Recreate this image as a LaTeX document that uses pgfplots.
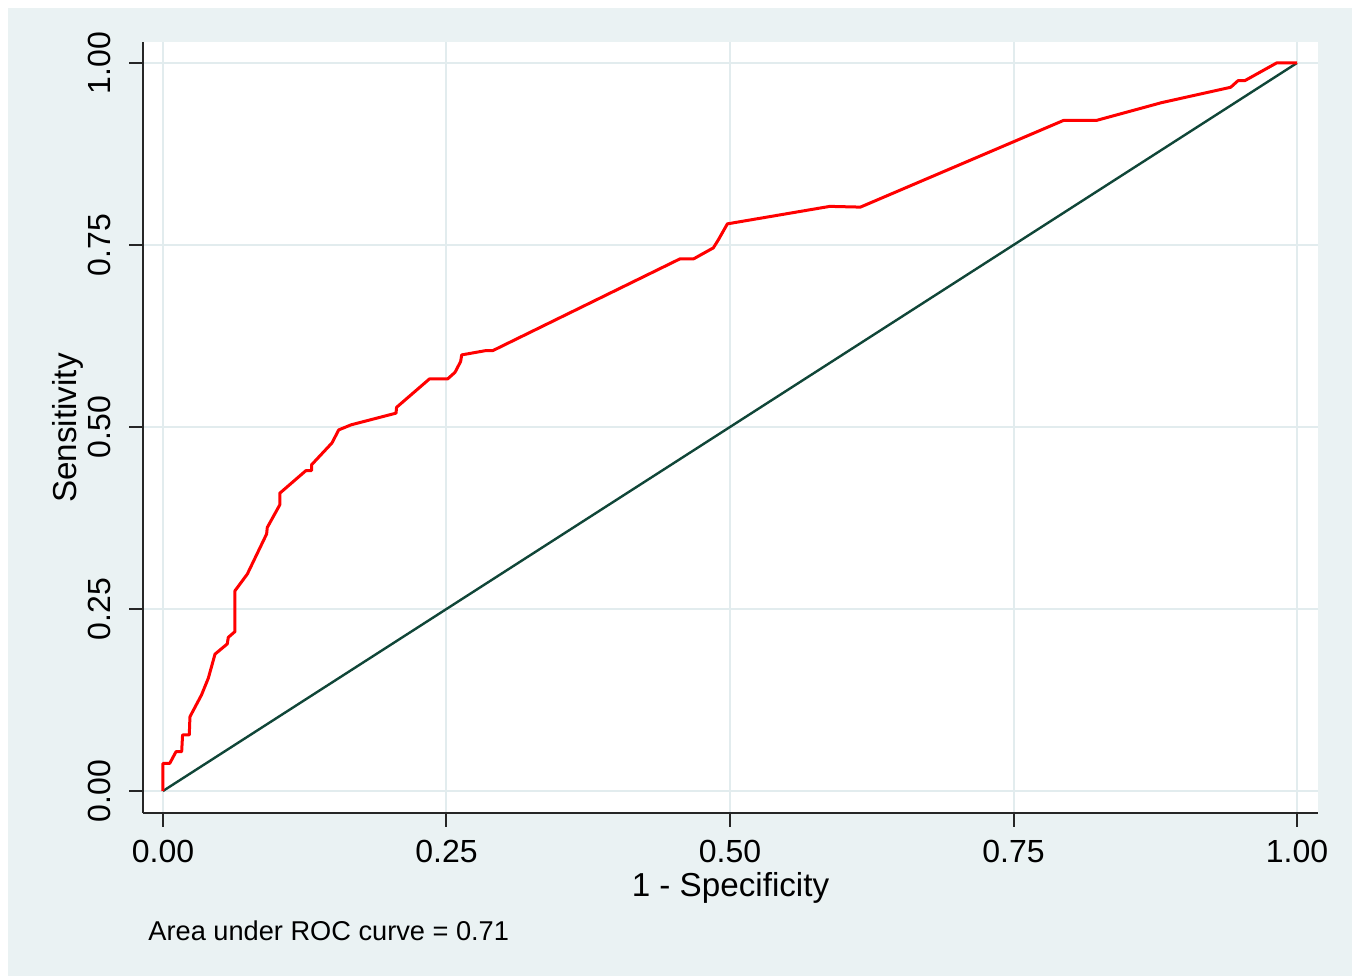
\documentclass[border=0pt]{standalone}
\usepackage{pgfplots}
\pgfplotsset{compat=1.18}
\usepackage{fontspec}
\setmainfont{Liberation Sans}
\definecolor{bgc}{HTML}{EAF2F3}
\definecolor{gridc}{HTML}{E2ECEE}
\definecolor{refc}{RGB}{16,70,56}
\begin{document}
\begin{tikzpicture}[x=1pt,y=1pt]
\fill[white] (0,0) rectangle (677,489);
\fill[bgc] (4,1) rectangle (676,485);
\begin{axis}[
  at={(71.5pt,82.5pt)}, anchor=south west,
  scale only axis, width=587.5pt, height=385.5pt,
  xmin=-0.0176, xmax=1.0185, ymin=-0.0302, ymax=1.0288,
  axis background/.style={fill=white},
  axis x line*=bottom, axis y line*=left,
  axis line style={-, line width=1pt, black!85},
  tick align=outside, major tick length=7pt,
  tick style={line width=1pt, black!85},
  xtick={0,0.25,0.5,0.75,1}, ytick={0,0.25,0.5,0.75,1},
  xticklabels={0.00,0.25,0.50,0.75,1.00},
  yticklabels={0.00,0.25,0.50,0.75,1.00},
  ticklabel style={font=\fontsize{16}{19}\selectfont},
  xticklabel style={inner ysep=1pt, yshift=-5.5pt},
  yticklabel style={rotate=90, anchor=south, inner ysep=8.8pt},
  grid=major, major grid style={gridc, line width=1pt},
  xlabel={1 - Specificity}, ylabel={Sensitivity},
  label style={font=\fontsize{16.6}{19}\selectfont, inner sep=0pt},
  xlabel style={at={(rel axis cs:0.5,-0.097)}, anchor=center},
  ylabel style={at={(rel axis cs:-0.0638,0.4994)}, anchor=center, rotate=0},
  clip=false,
]
\addplot[refc, line width=1.2pt] coordinates {(0,0) (1,1)};
\addplot[red, line width=1.5pt, line join=round] table {
0 0
0 0.038
0.006 0.038
0.0115 0.054
0.0165 0.054
0.0173 0.077
0.0232 0.077
0.0238 0.102
0.034 0.132
0.040 0.155
0.0459 0.188
0.0567 0.202
0.0576 0.211
0.0635 0.219
0.0635 0.275
0.0744 0.298
0.0914 0.353
0.092 0.362
0.103 0.393
0.103 0.409
0.126 0.440
0.131 0.440
0.131 0.448
0.149 0.478
0.155 0.496
0.166 0.503
0.2055 0.519
0.206 0.527
0.235 0.566
0.251 0.566
0.2575 0.575
0.2625 0.590
0.2634 0.599
0.285 0.605
0.291 0.605
0.456 0.731
0.468 0.731
0.4853 0.746
0.4897 0.757
0.4977 0.779
0.588 0.803
0.615 0.802
0.794 0.921
0.823 0.921
0.8806 0.9455
0.9415 0.9666
0.948 0.9757
0.954 0.9757
0.982 1
1 1
};
\node[anchor=west, font=\fontsize{13.6}{16}\selectfont, inner sep=0pt] at (rel axis cs:0.0043,-0.153) {Area under ROC curve = 0.71};
\end{axis}
\end{tikzpicture}
\end{document}
